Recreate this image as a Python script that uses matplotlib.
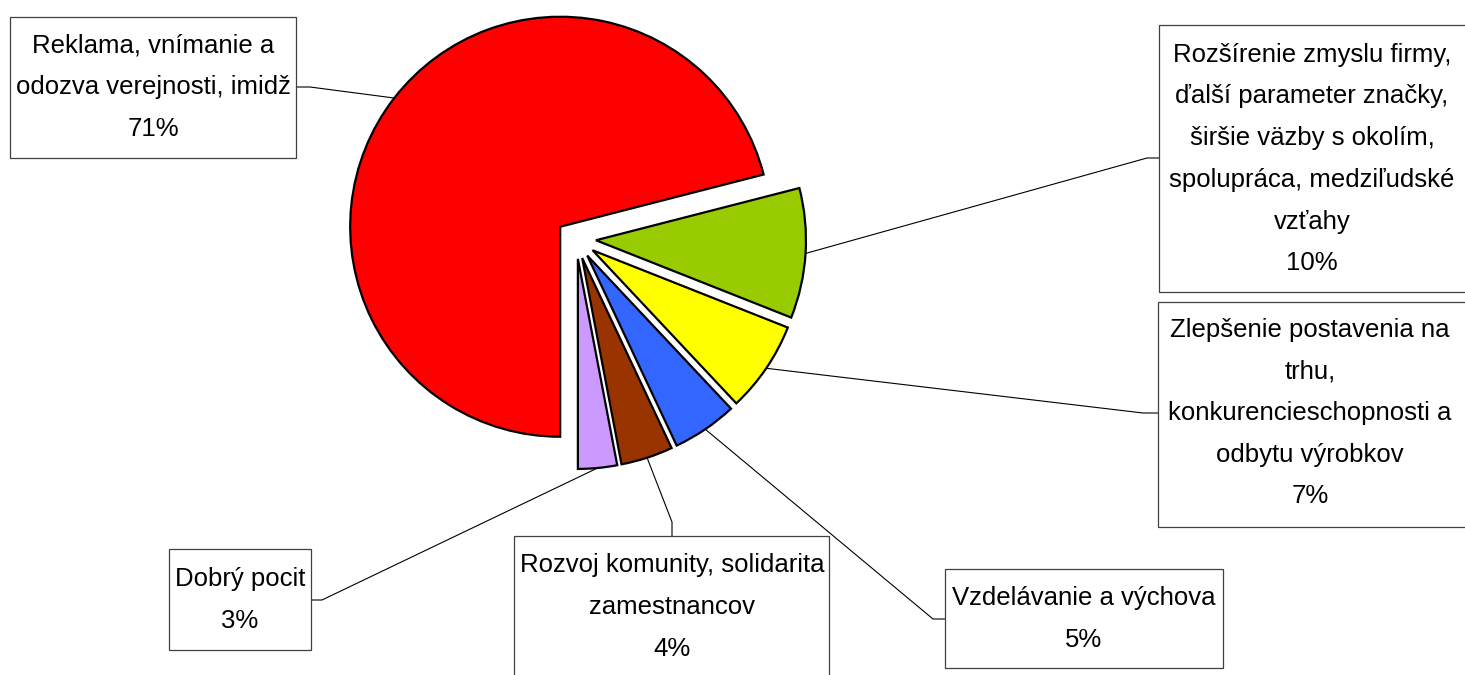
import math
import matplotlib
matplotlib.use("Agg")
import matplotlib.pyplot as plt
from matplotlib import font_manager as fm
from matplotlib.patches import Rectangle

# ---------------- data ----------------
categories = [
    "Reklama, vnímanie a\nodozva verejnosti, imidž",
    "Rozšírenie zmyslu firmy,\nďalší parameter značky,\nširšie väzby s okolím,\nspolupráca, medziľudské\nvzťahy",
    "Zlepšenie postavenia na\ntrhu,\nkonkurencieschopnosti a\nodbytu výrobkov",
    "Vzdelávanie a výchova",
    "Rozvoj komunity, solidarita\nzamestnancov",
    "Dobrý pocit",
]
values = [71, 10, 7, 5, 4, 3]
colors = ["#FF0000", "#99CC00", "#FFFF00", "#3366FF", "#993300", "#CC99FF"]

# ---------------- layout (pixel coordinates, y downwards) ----------------
W, H = 1465, 675
CENTER = (576, 239)
RADIUS = 210
EXPLODE = 20

# label boxes: (x0, y0, x1, y1)
boxes = [
    (10, 17, 296, 158),
    (1159, 25, 1468, 292),
    (1158, 302, 1468, 527),
    (945, 569, 1223, 668),
    (514, 536, 829, 690),
    (169, 549, 311, 650),
]
text_pos = [(153, 87), (1312, 159), (1310, 413), (1084, 619), (672, 607), (240, 600)]
# leader elbows and attachment points on the boxes
elbows = [(310, 87), (1147, 158), (1143, 413), (933, 619), (672, 522), (322, 600)]
attach = [(296, 87), (1159, 158), (1158, 413), (945, 619), (672, 536), (311, 600)]


def pick_font():
    for fam in ["Liberation Sans Narrow", "Liberation Sans", "Arial"]:
        try:
            fm.findfont(fm.FontProperties(family=fam), fallback_to_default=False)
            return fam
        except Exception:
            pass
    return "DejaVu Sans"


FONT = pick_font()
FSIZE = 21.5 if "Narrow" in FONT else 18.5
LSPACE = 1.62 if "Narrow" in FONT else 1.93

fig = plt.figure(figsize=(W / 100, H / 100), dpi=100)
ax = fig.add_axes([0, 0, 1, 1])

wedges, _ = ax.pie(
    values,
    colors=colors,
    startangle=90,
    counterclock=True,
    explode=[EXPLODE] * len(values),
    radius=RADIUS,
    center=CENTER,
    wedgeprops=dict(edgecolor="black", linewidth=1.6),
)
ax.set_xlim(0, W)
ax.set_ylim(H, 0)
ax.set_aspect("auto")
ax.axis("off")

for i, w in enumerate(wedges):
    tm = math.radians((w.theta1 + w.theta2) / 2)
    cx, cy = w.center
    sx = cx + w.r * math.cos(tm)
    sy = cy + w.r * math.sin(tm)
    ex, ey = elbows[i]
    axx, axy = attach[i]
    ax.plot([sx, ex, axx], [sy, ey, axy], color="black", lw=0.8, zorder=1,
            solid_capstyle="butt")
    x0, y0, x1, y1 = boxes[i]
    ax.add_patch(Rectangle((x0, y0), x1 - x0, y1 - y0, facecolor="white",
                           edgecolor="#404040", lw=0.9, zorder=2, clip_on=True))
    tx, ty = text_pos[i]
    ax.text(tx, ty, f"{categories[i]}\n{values[i]}%", ha="center", va="center",
            multialignment="center", fontsize=FSIZE, family=FONT,
            linespacing=LSPACE, zorder=3, color="black")

fig.savefig("out.png", dpi=100)
